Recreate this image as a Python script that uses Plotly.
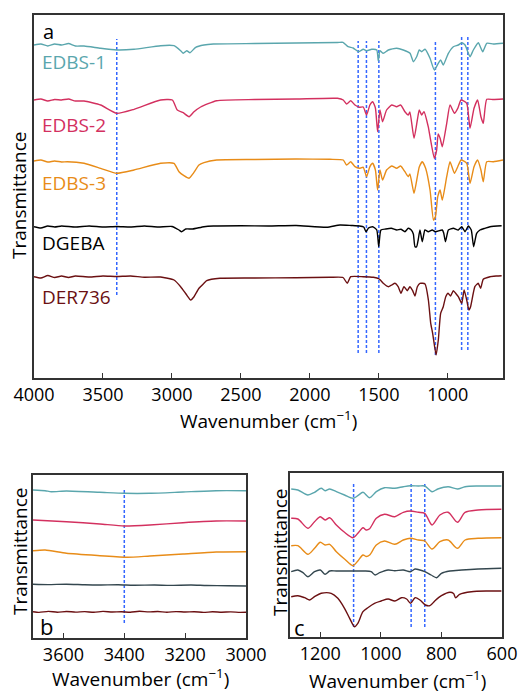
import plotly.graph_objects as go

# ---------------- Panel a: full spectra (stacked, arbitrary transmittance units) ----------------
wn_edbs1 = [4000, 3950, 3900, 3850, 3800, 3750, 3700, 3637, 3517, 3400, 3275, 3082, 2985, 2937, 2918, 2893,
            2869, 2828, 2768, 2700, 2400, 2100, 1800, 1760, 1723, 1687, 1646, 1613, 1587, 1552, 1515, 1504,
            1492, 1468, 1431, 1371, 1323, 1274, 1250, 1226, 1207, 1190, 1165, 1129, 1098, 1069, 1052, 1033,
            996, 960, 924, 899, 875, 839, 815, 779, 747, 718, 670, 600]
t_edbs1 = [332, 333, 331, 333, 332, 333.5, 331, 331, 328.7, 327, 327.7, 331.3, 331.3, 326.3, 323.7, 326.3,
           324.3, 329.7, 332, 333, 333.5, 334, 334.5, 334.7, 330.3, 329, 325.3, 327.7, 326.3, 327.7, 327, 316,
           326.3, 323.7, 327, 328.7, 327, 323.7, 315.3, 320.3, 327, 325.3, 327.7, 318.7, 307, 313.7, 317, 312,
           323.7, 330.3, 332, 334.3, 332, 320.3, 327, 334.3, 325.3, 333.7, 333, 333.7]

wn_edbs2 = [4000, 3950, 3900, 3850, 3800, 3750, 3700, 3637, 3517, 3400, 3275, 3082, 2997, 2961, 2918, 2876,
            2840, 2792, 2676, 2400, 2100, 1800, 1758, 1734, 1704, 1673, 1641, 1613, 1589, 1565, 1545, 1525,
            1509, 1492, 1473, 1444, 1407, 1371, 1342, 1311, 1287, 1275, 1245, 1221, 1207, 1190, 1173, 1142,
            1129, 1098, 1081, 1070, 1056, 1040, 1008, 984, 952, 928, 904, 863, 839, 810, 784, 760, 743, 718,
            670, 600]
t_edbs2 = [277, 278, 276, 277.5, 277, 278, 276, 276, 272, 263.7, 267.7, 277, 277, 267, 264.3, 260.3,
           265.3, 270, 276.3, 277.5, 278, 278.7, 277, 273, 276.3, 272, 269.7, 270, 262, 272, 275.3, 269,
           245.3, 267, 255.3, 267, 272, 270.3, 272, 265.3, 262, 265, 238.7, 257, 267, 262, 265.3, 250.3,
           240.3, 218.7, 227, 243, 238.7, 230.3, 253.7, 272, 263.7, 268.7, 277, 273.7, 248.7, 268.7, 277, 260.3,
           253.7, 277.7, 277.5, 278]

wn_edbs3 = [4000, 3950, 3900, 3850, 3800, 3758, 3637, 3517, 3400, 3275, 3082, 2985, 2949, 2913, 2876, 2845,
            2804, 2768, 2676, 2400, 2100, 1854, 1758, 1734, 1704, 1673, 1641, 1613, 1589, 1565, 1545, 1525,
            1509, 1492, 1473, 1444, 1407, 1371, 1342, 1311, 1287, 1275, 1245, 1221, 1207, 1185, 1161, 1129,
            1104, 1090, 1073, 1056, 1040, 1008, 984, 952, 928, 904, 863, 839, 810, 784, 760, 743, 718, 670, 600]
t_edbs3 = [216, 217, 215, 216, 215, 215.3, 213.7, 208.7, 203.7, 207, 213.7, 213.7, 205.3, 201.3, 198.7, 203.7,
           212, 214.3, 217, 217.5, 218, 217.7, 217, 212, 215.3, 210.3, 208.7, 209.7, 200.3, 210.3, 213.7, 207,
           187, 207, 197, 207, 211, 208.7, 211, 205.3, 200.3, 203, 183.7, 200.3, 210, 215.3, 208.7, 187,
           157, 160.3, 180.3, 187, 177, 200.3, 215.3, 203.7, 210.3, 217, 213.7, 193.7, 210.3, 217, 207, 195.3,
           215.3, 215.3, 217]

wn_dgeba = [4000, 3950, 3900, 3850, 3800, 3700, 3600, 3500, 3400, 3300, 3200, 3100, 3000, 2949, 2930, 2900,
            2850, 2768, 2700, 2500, 2300, 2100, 1878, 1782, 1700, 1640, 1610, 1593, 1575, 1545, 1515, 1501,
            1485, 1450, 1410, 1370, 1340, 1311, 1287, 1265, 1250, 1238, 1226, 1215, 1202, 1185, 1166, 1142,
            1113, 1090, 1040, 1030, 1017, 996, 960, 924, 899, 875, 851, 830, 813, 791, 767, 731, 694, 610]
t_dgeba = [150.3, 149, 151, 150, 151, 150, 151, 150, 150.5, 150, 151, 150, 150.5, 147, 145.3, 148,
           148, 150.3, 151, 151.3, 151, 151.5, 149.7, 152, 151.5, 151, 150, 145.3, 149, 150.3, 147, 130.3,
           147, 148, 148.7, 147, 147.7, 145.3, 148.7, 147, 143, 130.3, 130.3, 137, 147, 135.3, 147, 145.3,
           147, 145.3, 147, 144, 135.3, 147, 148.7, 147, 150.3, 145.3, 151, 147, 130.3, 143.7, 147, 148.7,
           150.3, 151.3]

wn_der736 = [4000, 3950, 3900, 3850, 3800, 3750, 3700, 3600, 3500, 3400, 3300, 3200, 3082, 2985, 2937, 2893,
             2864, 2840, 2804, 2768, 2748, 2652, 2400, 2100, 1854, 1760, 1729, 1704, 1613, 1540, 1497, 1468,
             1431, 1407, 1383, 1360, 1340, 1318, 1294, 1275, 1255, 1238, 1221, 1202, 1165, 1141, 1124, 1110,
             1085, 1069, 1052, 1033, 1015, 998, 980, 960, 942, 924, 899, 882, 863, 847, 835, 804, 780, 762,
             743, 694, 646, 610]
t_der736 = [100.3, 99, 101.5, 99.5, 101, 99.5, 101, 100, 101, 100.5, 101, 99.8, 100, 97, 90.3, 82,
            77, 80.3, 88.7, 93.7, 96.3, 98.7, 99, 99.3, 99.7, 99.5, 93.7, 100.3, 100.3, 99.7, 98, 93.7,
            90.3, 92, 93.7, 90.3, 83.7, 90.3, 86.3, 90.3, 86.3, 81, 90.3, 93.7, 93, 77, 53.7, 43.7,
            22, 37, 63.7, 70.3, 80.3, 83.7, 81, 86.3, 83.5, 80.3, 73.7, 87, 77, 67, 70.3, 90.3, 93.7, 88.7,
            97.7, 100.3, 101, 101.3]

# ---------------- Panel b: 3700-3000 cm-1 ----------------
wn_b_edbs1 = [3700, 3660, 3640, 3590, 3480, 3400, 3316, 3207, 3098, 3000]
t_b_edbs1 = [148, 147.3, 146.3, 147, 145.7, 144.7, 144.7, 146, 147.3, 147.3]
wn_b_edbs2 = [3700, 3590, 3480, 3400, 3316, 3207, 3098, 3000]
t_b_edbs2 = [118, 116.3, 114, 112, 113, 115.3, 117, 117]
wn_b_edbs3 = [3700, 3660, 3590, 3480, 3390, 3316, 3207, 3098, 3000]
t_b_edbs3 = [87.3, 88, 84.7, 82.3, 80.7, 82, 84, 86, 86.3]
wn_b_dgeba = [3700, 3650, 3590, 3530, 3480, 3420, 3370, 3300, 3250, 3180, 3130, 3060, 3000]
t_b_dgeba = [53.7, 53.4, 53.8, 53.2, 53, 53.3, 52.8, 53, 52.6, 53, 52.5, 52.3, 52]
wn_b_der736 = [3700, 3680, 3650, 3620, 3590, 3560, 3530, 3500, 3470, 3440, 3410, 3380, 3350, 3320, 3290,
               3260, 3230, 3200, 3170, 3140, 3110, 3080, 3050, 3020, 3000]
t_b_der736 = [26.3, 25.6, 26.6, 25.8, 26.5, 25.9, 26.4, 25.7, 26.6, 26, 26.3, 25.8, 26.7, 26.1, 26.5,
              25.8, 26.4, 26, 26.3, 25.6, 26.2, 25.8, 26.1, 25.6, 25.7]

# ---------------- Panel c: 1300-600 cm-1 ----------------
wn_c_edbs1 = [1296, 1274, 1241, 1219, 1197, 1184, 1169, 1147, 1120, 1092, 1076, 1059, 1037, 1015, 988, 954,
              926, 902, 876, 855, 831, 812, 778, 747, 722, 679, 602]
t_c_edbs1 = [148, 147, 142, 144.7, 148.7, 146.3, 148, 145.3, 142, 138.7, 141.3, 144.7, 139.3, 145.3, 149.3,
             148.7, 150.3, 151.3, 151, 151, 145.3, 148, 150.3, 148, 150.3, 151, 151]
wn_c_edbs2 = [1296, 1274, 1241, 1219, 1200, 1184, 1169, 1147, 1120, 1092, 1076, 1059, 1048, 1037, 1015, 988,
              954, 926, 902, 876, 855, 831, 805, 778, 747, 722, 679, 602]
t_c_edbs2 = [118.7, 118, 108.7, 115.3, 120.3, 117, 119.3, 112, 104.7, 99.3, 103.7, 109.3, 107, 108.3, 118.7,
             122.7, 120.3, 124.7, 126, 124.7, 123.7, 112, 122, 124.7, 114.7, 124.7, 127, 127.7]
wn_c_edbs3 = [1296, 1274, 1241, 1219, 1200, 1184, 1169, 1147, 1120, 1092, 1076, 1059, 1048, 1037, 1015, 988,
              954, 926, 902, 876, 855, 831, 805, 778, 747, 722, 679, 602]
t_c_edbs3 = [91.3, 91.3, 82.7, 88.7, 94.7, 92, 92.7, 85.3, 78, 71.3, 76, 82, 80.5, 82, 92, 96,
             92.7, 97, 98.7, 97, 96, 88, 95.3, 97, 88.7, 97, 98.7, 99.3]
wn_c_dgeba = [1296, 1274, 1257, 1241, 1219, 1200, 1184, 1169, 1147, 1087, 1054, 1032, 1019, 1004, 976, 954,
              926, 902, 887, 871, 855, 834, 816, 800, 772, 733, 679, 602]
t_c_dgeba = [65.3, 67, 64.3, 60.3, 65.3, 67, 62.7, 66, 66, 66, 66, 65.3, 62, 64.3, 67, 66.3,
             67, 65.3, 68, 67, 65.3, 62, 59.3, 63.7, 66, 67, 68, 68.7]
wn_c_der736 = [1296, 1274, 1252, 1235, 1219, 1197, 1164, 1142, 1120, 1103, 1087, 1076, 1059, 1043, 1021, 999,
               976, 954, 932, 915, 902, 887, 871, 853, 838, 822, 800, 772, 760, 753, 740, 701, 646, 602]
t_c_der736 = [40.3, 41.3, 39.3, 37, 40.3, 43.7, 43.7, 38.7, 28.7, 18.7, 10.3, 13.7, 25.3, 29.3, 33.7, 36,
              38, 36, 39.3, 38, 33.7, 39.3, 37, 32, 31.3, 36, 41.3, 44.7, 43.5, 39.3, 42.7, 45.3, 46, 46]

# Marked band positions (cm-1)
bands_a = [3400, 1650, 1590, 1500, 1090, 900, 855]
bands_a_top = [338, 336, 336, 336, 337, 340, 340]
bands_a_bottom = [82, 24, 24, 24, 22, 27, 27]
bands_b = [3400]
bands_c = [1090, 900, 855]

series_names = ["EDBS-1", "EDBS-2", "EDBS-3", "DGEBA", "DER736"]
colors_a = ["#5aa6ad", "#d3305f", "#e88c18", "#000000", "#6b1012"]
colors_bc = ["#5aa6ad", "#d3305f", "#e88c18", "#34474f", "#6b1012"]
label_y = [315, 252, 194, 134, 80]

FONT = "Open Sans"
fig = go.Figure()

data_a = [(wn_edbs1, t_edbs1), (wn_edbs2, t_edbs2), (wn_edbs3, t_edbs3), (wn_dgeba, t_dgeba), (wn_der736, t_der736)]
data_b = [(wn_b_edbs1, t_b_edbs1), (wn_b_edbs2, t_b_edbs2), (wn_b_edbs3, t_b_edbs3), (wn_b_dgeba, t_b_dgeba),
          (wn_b_der736, t_b_der736)]
data_c = [(wn_c_edbs1, t_c_edbs1), (wn_c_edbs2, t_c_edbs2), (wn_c_edbs3, t_c_edbs3), (wn_c_dgeba, t_c_dgeba),
          (wn_c_der736, t_c_der736)]

for i, name in enumerate(series_names):
    fig.add_trace(go.Scatter(x=data_a[i][0], y=data_a[i][1], mode="lines", name=name,
                             line=dict(color=colors_a[i], width=1.4, shape="spline", smoothing=0.5),
                             xaxis="x", yaxis="y", showlegend=False))
    fig.add_trace(go.Scatter(x=data_b[i][0], y=data_b[i][1], mode="lines", name=name,
                             line=dict(color=colors_bc[i], width=1.4, shape="spline", smoothing=0.6),
                             xaxis="x2", yaxis="y2", showlegend=False))
    fig.add_trace(go.Scatter(x=data_c[i][0], y=data_c[i][1], mode="lines", name=name,
                             line=dict(color=colors_bc[i], width=1.4, shape="spline", smoothing=0.8),
                             xaxis="x3", yaxis="y3", showlegend=False))

shapes = []
dash_style = dict(color="#3366ff", width=1.5, dash="3px,2px")
for w, y0, y1 in zip(bands_a, bands_a_bottom, bands_a_top):
    shapes.append(dict(type="line", xref="x", yref="y", x0=w, x1=w, y0=y0, y1=y1, line=dash_style, layer="below"))
for w in bands_b:
    shapes.append(dict(type="line", xref="x2", yref="y2", x0=w, x1=w, y0=15, y1=150, line=dash_style, layer="below"))
for w in bands_c:
    shapes.append(dict(type="line", xref="x3", yref="y3", x0=w, x1=w, y0=10, y1=154, line=dash_style, layer="below"))

W, H = 520, 693
def px(x):
    return x / W
def py(y):
    return 1 - y / H

axis_common = dict(showline=True, mirror=True, linecolor="#333333", linewidth=1.5, showgrid=False,
                   zeroline=False, ticks="inside", ticklen=5, tickwidth=1.2, tickcolor="#333333",
                   tickfont=dict(family=FONT, size=18, color="#000000"), automargin=False)
yaxis_common = dict(showline=True, mirror=True, linecolor="#333333", linewidth=1.5, showgrid=False,
                    zeroline=False, ticks="", showticklabels=False, automargin=False)

annotations = []
for i, name in enumerate(series_names):
    annotations.append(dict(text=name, x=px(40), y=label_y[i], xref="paper", yref="y", xanchor="left",
                            yanchor="middle", showarrow=False,
                            font=dict(family=FONT, size=19, color=colors_a[i])))

def paper_text(text, x, y, size=19, angle=0, xanchor="center"):
    annotations.append(dict(text=text, x=px(x), y=py(y), xref="paper", yref="paper", xanchor=xanchor,
                            yanchor="middle", showarrow=False, textangle=angle,
                            font=dict(family=FONT, size=size, color="#000000")))

paper_text("a", 41, 31, size=20, xanchor="left")
paper_text("b", 38, 626, size=22, xanchor="left")
paper_text("c", 292, 627, size=22, xanchor="left")
xtitle = "Wavenumber (cm<sup>\u22121</sup>)"
paper_text(xtitle, 268, 420)
paper_text(xtitle, 140, 678)
paper_text(xtitle, 397, 680)
paper_text("Transmittance", 19, 196, angle=-90)
paper_text("Transmittance", 20, 552, angle=-90)
paper_text("Transmittance", 280, 553, angle=-90)

fig.update_layout(
    width=W, height=H, margin=dict(l=0, r=0, t=0, b=0),
    paper_bgcolor="white", plot_bgcolor="white",
    xaxis=dict(domain=[px(34), px(503)], range=[4000, 600], anchor="y",
               tickvals=[4000, 3500, 3000, 2500, 2000, 1500, 1000], **axis_common),
    yaxis=dict(domain=[py(378), py(15)], range=[-1, 362], anchor="x", **yaxis_common),
    xaxis2=dict(domain=[px(33), px(246)], range=[3700, 3000], anchor="y2",
                tickvals=[3600, 3400, 3200, 3000], **axis_common),
    yaxis2=dict(domain=[py(638), py(475)], range=[0, 163], anchor="x2", **yaxis_common),
    xaxis3=dict(domain=[px(290), px(502)], range=[1300, 600], anchor="y3",
                tickvals=[1200, 1000, 800, 600], **axis_common),
    yaxis3=dict(domain=[py(637), py(473)], range=[0, 164], anchor="x3", **yaxis_common),
    shapes=shapes, annotations=annotations,
    font=dict(family=FONT, size=18, color="#000000"),
)

fig.write_html("out.html", config={"displayModeBar": False},
               post_script="document.body.style.margin='0';document.body.style.overflow='hidden';")
